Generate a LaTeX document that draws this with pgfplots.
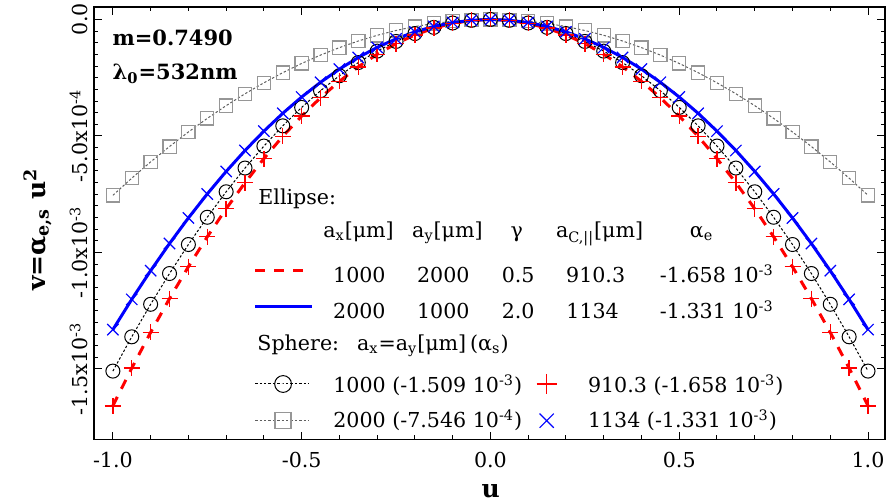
\documentclass[border=0pt]{standalone}
\usepackage{pgfplots}
\pgfplotsset{compat=1.18}
\usepackage{pgfplotstable}
\usepackage{fontspec}
\setmainfont{DejaVu Serif}
\usetikzlibrary{plotmarks}
\definecolor{sqgray}{RGB}{150,150,150}
\definecolor{lngray}{RGB}{95,95,95}

% v in units of 1e-3: e1 = -1.658 u^2, e2 = -1.331 u^2, s1 = -1.509 u^2, s2 = -0.7546 u^2
\pgfplotstableread{
u e1 e2 s1 s2
-1.00 -1.6580 -1.3310 -1.5090 -0.7546
-0.95 -1.4963 -1.2012 -1.3619 -0.6810
-0.90 -1.3430 -1.0781 -1.2223 -0.6112
-0.85 -1.1979 -0.9616 -1.0903 -0.5452
-0.80 -1.0611 -0.8518 -0.9658 -0.4829
-0.75 -0.9326 -0.7487 -0.8488 -0.4245
-0.70 -0.8124 -0.6522 -0.7394 -0.3698
-0.65 -0.7005 -0.5623 -0.6376 -0.3188
-0.60 -0.5969 -0.4792 -0.5432 -0.2717
-0.55 -0.5015 -0.4026 -0.4565 -0.2283
-0.50 -0.4145 -0.3328 -0.3773 -0.1887
-0.45 -0.3357 -0.2695 -0.3056 -0.1528
-0.40 -0.2653 -0.2130 -0.2414 -0.1207
-0.35 -0.2031 -0.1630 -0.1849 -0.0924
-0.30 -0.1492 -0.1198 -0.1358 -0.0679
-0.25 -0.1036 -0.0832 -0.0943 -0.0472
-0.20 -0.0663 -0.0532 -0.0604 -0.0302
-0.15 -0.0373 -0.0299 -0.0340 -0.0170
-0.10 -0.0166 -0.0133 -0.0151 -0.0075
-0.05 -0.0041 -0.0033 -0.0038 -0.0019
0.00 0.0000 0.0000 0.0000 0.0000
0.05 -0.0041 -0.0033 -0.0038 -0.0019
0.10 -0.0166 -0.0133 -0.0151 -0.0075
0.15 -0.0373 -0.0299 -0.0340 -0.0170
0.20 -0.0663 -0.0532 -0.0604 -0.0302
0.25 -0.1036 -0.0832 -0.0943 -0.0472
0.30 -0.1492 -0.1198 -0.1358 -0.0679
0.35 -0.2031 -0.1630 -0.1849 -0.0924
0.40 -0.2653 -0.2130 -0.2414 -0.1207
0.45 -0.3357 -0.2695 -0.3056 -0.1528
0.50 -0.4145 -0.3328 -0.3773 -0.1887
0.55 -0.5015 -0.4026 -0.4565 -0.2283
0.60 -0.5969 -0.4792 -0.5432 -0.2717
0.65 -0.7005 -0.5623 -0.6376 -0.3188
0.70 -0.8124 -0.6522 -0.7394 -0.3698
0.75 -0.9326 -0.7487 -0.8488 -0.4245
0.80 -1.0611 -0.8518 -0.9658 -0.4829
0.85 -1.1979 -0.9616 -1.0903 -0.5452
0.90 -1.3430 -1.0781 -1.2223 -0.6112
0.95 -1.4963 -1.2012 -1.3619 -0.6810
1.00 -1.6580 -1.3310 -1.5090 -0.7546
}\data

\begin{document}
\begin{tikzpicture}
\begin{axis}[
  name=ax,
  width=395.5pt, height=216.25pt, scale only axis,
  xmin=-1.05, xmax=1.045, ymin=-1.8026, ymax=0.0536,
  xtick={-1,-0.5,0,0.5,1},
  xticklabels={-1.0,-0.5,0.0,0.5,1.0},
  minor x tick num=4,
  ytick={-1.5,-1,-0.5,0},
  yticklabels={{-1.5x10\textsuperscript{-3}\hspace{31pt}},{-1.0x10\textsuperscript{-3}\hspace{33pt}},{-5.0x10\textsuperscript{-4}\hspace{33pt}},{0.0\hspace{2.5pt}}},
  minor y tick num=9,
  major tick length=3.85pt, minor tick length=2.15pt,
  axis line style={line width=0.75pt},
  every tick/.style={black, line width=0.5pt},
  tick label style={font=\fontsize{10.3}{12}\selectfont},
  xticklabel style={anchor=north, inner sep=0pt, yshift=-6.25pt},
  yticklabel style={rotate=90, anchor=south, inner sep=2.85pt},
  xlabel={\textbf{u}},
  ylabel={\textbf{v=α\textsubscript{e,s} u\textsuperscript{2}}},
  label style={font=\fontsize{12.5}{14}\selectfont},
  xlabel style={at={(axis description cs:0.5015,-0.133)}, anchor=base},
  ylabel style={at={(axis description cs:-0.0619,0.4855)}, anchor=base, rotate=0},
]
% data
\addplot[lngray, line width=0.5pt, dash pattern=on 1.2pt off 1pt, mark=square, mark size=3.3pt, mark options={solid, sqgray, line width=0.6pt}] table[x=u,y=s2] {\data};
\addplot[black, line width=0.5pt, dash pattern=on 1.2pt off 1pt, mark=o, mark size=3.5pt, mark options={solid, black, line width=0.5pt}] table[x=u,y=s1] {\data};
\addplot[red, line width=1.5pt, dash pattern=on 5pt off 4.5pt, no marks] table[x=u,y=e1] {\data};
\addplot[blue, line width=1.5pt, no marks] table[x=u,y=e2] {\data};
\addplot[red, only marks, mark=+, mark size=4pt, mark options={line width=0.7pt}] table[x=u,y=e1] {\data};
\addplot[blue, only marks, mark=x, mark size=4pt, mark options={line width=0.6pt}] table[x=u,y=e2] {\data};

% legend glyphs
\addplot[red, line width=1.5pt, dash pattern=on 5pt off 4.5pt, forget plot] coordinates {(-0.6230,-1.0781) (-0.4960,-1.0781)};
\addplot[blue, line width=1.5pt, forget plot] coordinates {(-0.6230,-1.2326) (-0.4722,-1.2326)};
\addplot[black, line width=0.5pt, dash pattern=on 1.2pt off 1pt, mark=o, mark size=4.2pt, mark indices={2}, mark options={solid, line width=0.5pt}, forget plot] coordinates {(-0.6230,-1.5644) (-0.5492,-1.5644) (-0.4802,-1.5644)};
\addplot[lngray, line width=0.5pt, dash pattern=on 1.2pt off 1pt, mark=square, mark size=4pt, mark indices={2}, mark options={solid, sqgray, line width=0.6pt}, forget plot] coordinates {(-0.6230,-1.7219) (-0.5492,-1.7219) (-0.4802,-1.7219)};
\addplot[red, only marks, mark=+, mark size=5pt, mark options={line width=0.7pt}, forget plot] coordinates {(0.1489,-1.5644)};
\addplot[blue, only marks, mark=x, mark size=5pt, mark options={line width=0.6pt}, forget plot] coordinates {(0.1489,-1.7219)};

% legend / annotation text
\begin{scope}[every node/.style={font=\fontsize{10.3}{12}\selectfont, inner sep=0pt}]
\node[anchor=base west, font=\fontsize{10.5}{12}\selectfont\bfseries] at (axis cs:-1.0018,-0.1137) {m=0.7490};
\node[anchor=base west, font=\fontsize{10.5}{12}\selectfont\bfseries] at (axis cs:-1.0018,-0.2597) {λ\textsubscript{0}=532nm};
\node[anchor=base west] at (axis cs:-0.6156,-0.7961) {Ellipse:};
\node[anchor=base west] at (axis cs:-0.4436,-0.9378) {a\textsubscript{x}[μm]};
\node[anchor=base west] at (axis cs:-0.2082,-0.9378) {a\textsubscript{y}[μm]};
\node[anchor=base] at (axis cs:0.0696,-0.9378) {γ};
\node[anchor=base west] at (axis cs:0.1728,-0.9378) {a\textsubscript{C,||}[μm]};
\node[anchor=base west] at (axis cs:0.5272,-0.9378) {α\textsubscript{e}};
\node[anchor=base] at (axis cs:-0.3471,-1.1309) {1000};
\node[anchor=base] at (axis cs:-0.1249,-1.1309) {2000};
\node[anchor=base] at (axis cs:0.0735,-1.1309) {0.5};
\node[anchor=base] at (axis cs:0.2786,-1.1309) {910.3};
\node[anchor=base west] at (axis cs:0.4479,-1.1309) {-1.658 10\textsuperscript{-3}};
\node[anchor=base] at (axis cs:-0.3471,-1.2854) {2000};
\node[anchor=base] at (axis cs:-0.1249,-1.2854) {1000};
\node[anchor=base] at (axis cs:0.0735,-1.2854) {2.0};
\node[anchor=base] at (axis cs:0.2706,-1.2854) {1134};
\node[anchor=base west] at (axis cs:0.4479,-1.2854) {-1.331 10\textsuperscript{-3}};
\node[anchor=base west] at (axis cs:-0.6183,-1.4227) {Sphere:};
\node[anchor=base west] at (axis cs:-0.3540,-1.4227) {a\textsubscript{x}=a\textsubscript{y}[μm]};
\node[anchor=base west] at (axis cs:-0.0548,-1.4227) {(α\textsubscript{s})};
\node[anchor=base west] at (axis cs:-0.4172,-1.6030) {1000 (-1.509 10\textsuperscript{-3})};
\node[anchor=base west] at (axis cs:0.2574,-1.6030) {910.3 (-1.658 10\textsuperscript{-3})};
\node[anchor=base west] at (axis cs:-0.4172,-1.7532) {2000 (-7.546 10\textsuperscript{-4})};
\node[anchor=base west] at (axis cs:0.2574,-1.7532) {1134 (-1.331 10\textsuperscript{-3})};
\end{scope}
\end{axis}
\pgfresetboundingbox
\path ([shift={(-47pt,-31.25pt)}]ax.south west) rectangle ([shift={(0.5pt,3.5pt)}]ax.north east);
\end{tikzpicture}
\end{document}
